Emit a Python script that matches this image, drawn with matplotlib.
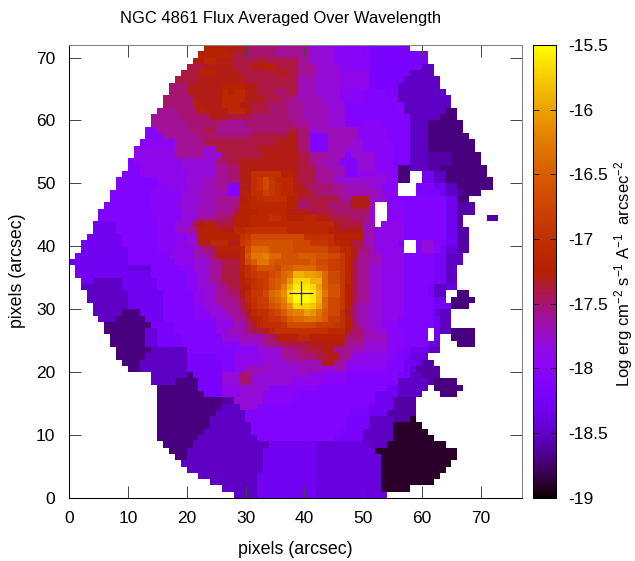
import numpy as np
import matplotlib
matplotlib.use("Agg")
import matplotlib.pyplot as plt
from matplotlib.cm import ScalarMappable
from matplotlib.colors import Normalize

plt.rcParams["font.family"] = ["Liberation Sans", "DejaVu Sans"]
plt.rcParams["mathtext.default"] = "regular"
plt.rcParams["axes.unicode_minus"] = False

# flux map, top row first. level char = (flux + 19) * 10 in base 36, '.' = no data
LEVELS = "0123456789abcdefghijklmnopqrstuvwxyz"
ROW_START = [23, 22, 21, 20, 19, 18, 17, 17, 16, 16, 15, 14, 14, 13, 13, 12, 11, 11,
             10, 10, 9, 8, 8, 7, 7, 6, 5, 5, 4, 4, 3, 2, 2, 1, 0, 1,
             1, 2, 2, 3, 3, 4, 4, 5, 6, 6, 7, 7, 8, 8, 9, 10, 14, 14,
             15, 15, 15, 15, 15, 15, 15, 15, 15, 16, 17, 18, 19, 20, 22, 24, 26, 28]
ROW_RUNS = [
    "i4 h3 f5 e6 c4 a6 87",
    "i6 g2 f5 e6 c4 a6 810",
    "h2 j2 h3 g4 h1 g6 e2 c4 a6 810",
    "g3 h5 g3 h2 i2 g4 e3 c4 a5 89 52",
    "g3 i3 h4 g6 h2 g2 e3 c4 b5 87 54",
    "g4 h8 g9 d3 c4 b5 86 56",
    "f3 h6 i4 h2 g7 d3 c4 b5 85 57",
    "f3 h6 j1 i1 j2 h2 g3 f2 g2 d3 c4 a4 95 81 58",
    "f5 h5 j4 h3 g3 f2 e1 d4 c3 a4 96 59",
    "f5 i1 h4 j3 h2 g3 f3 e3 d4 c3 93 97 58",
    "e3 f4 i1 h4 j3 h1 g3 f3 e3 d4 c3 93 96 a1 57 32",
    "e5 f5 h3 g4 f6 e3 d4 c3 911 55 33",
    "e6 f6 e4 f8 e3 d3 c3 93 a3 95 53 36",
    "a2 e5 f3 g2 e6 f6 g2 f2 c2 d6 a5 94 53 36",
    "a3 e6 f9 g6 h2 f2 93 d5 a5 94 53 37",
    "91 a5 e5 g8 g4 h4 f2 93 d4 c2 a5 93 53 38",
    "b7 e5 c2 g7 h7 f2 93 d3 c3 a5 93 53 38",
    "b7 e5 c3 g7 h6 g2 e3 d3 91 c4 a3 93 53 44 35",
    "91 b8 c3 c3 f2 g2 h10 g2 e2 d3 93 c3 a3 93 53 44 35",
    "92 b7 c6 e2 f2 h10 g3 e2 d3 92 c3 a3 91 32 53 42 38",
    "93 b8 c5 e2 f2 h2 k5 i2 h1 g3 e3 d2 92 b5 a2 32 .2 72 52 37",
    "97 b5 c3 d2 e2 f2 h2 k1 l1 n1 l1 j3 h1 g3 e3 c9 a2 32 .2 72 52 38",
    "97 a2 b3 c3 d2 e2 92 h2 k1 l1 n1 l1 k1 j2 h2 g1 f4 e2 d4 c2 a3 .3 81 92 72 52 36",
    "97 a5 c3 d5 92 i2 k2 m1 l1 k1 j2 i1 h2 g1 f3 e2 d6 b3 .3 81 83 71 52 41 33",
    "97 a5 c4 d2 e4 h1 i1 j1 k5 i2 g7 e2 h3 d1 c2 910 72 32",
    "98 a4 b1 c3 d3 e3 f1 i2 j6 i2 f2 g3 f4 h3 d1 .2 a3 97 72 43",
    "81 98 a5 c3 d3 e3 g1 i3 j5 h4 g4 f6 c1 .2 a3 97 71 71 43",
    "81 99 a4 c3 e3 f2 g1 i3 j3 k2 j1 i3 j2 i2 g4 f3 c1 .2 a3 97 72 41 .4 42",
    "74 97 a3 c3 h2 i2 g3 i3 j14 h1 g4 d2 .1 b4 97 72 41",
    "74 97 a3 c2 e2 i4 h2 j2 k7 j7 i1 h5 d2 b5 97 72 42",
    "76 96 a5 c2 i7 k1 l1 n9 k5 i5 d2 b5 97 72 42",
    "77 96 a3 b2 c2 h2 j3 h2 l1 m1 o7 n3 l3 k1 j1 i2 g2 d2 b4 81 .2 91 c2 92 72 42",
    "78 95 a3 b3 d2 f2 i4 j1 n1 q3 o4 n6 l2 j2 h1 f2 d1 b5 .2 91 c2 a1 81 62 42",
    "79 97 b4 d3 f1 h4 j1 o1 r2 s1 q2 o3 p3 o2 n2 l1 j1 h1 e2 d2 b4 95 82 53",
    "710 98 b3 c3 e2 g3 j1 n1 p1 r2 p1 o6 p1 n2 m2 l1 j1 g1 e2 d2 b4 95 82 53",
    "79 64 95 a2 c3 e2 g3 j1 k1 m1 o3 n1 p2 q4 o2 m2 l1 j1 g1 e2 c2 b4 95 82 52",
    "713 96 a2 c2 e2 g3 i1 k1 l1 m2 n1 o1 q1 r1 v2 u2 t1 q1 n2 l1 j1 g1 e2 c2 b4 95 82 52",
    "72 55 76 95 a2 c2 e2 g3 i1 j1 k1 l1 m1 o1 p1 q1 t1 x3 v2 q1 n2 l1 j1 g1 e2 c2 b4 95 82 52",
    "57 76 95 a2 c3 e2 g2 h1 i1 k1 l1 m1 o1 p1 s1 v1 y3 x1 u1 q1 o2 l1 i1 g1 e2 c2 b4 94 81 52 62",
    "57 76 95 b2 c2 e2 f2 h1 j1 l2 n1 q1 r1 t1 x1 z3 y1 v1 r1 o2 l1 i1 g1 e2 c2 b4 94 81 52 .2 32",
    "57 76 95 b2 c2 e3 f1 g1 j1 k1 m2 p1 q1 s1 w1 z3 y1 v1 q1 n2 l1 i1 g1 e2 c2 b4 95 72 .1 34",
    "56 76 95 a2 c3 e3 g1 i1 k1 l1 m1 o1 p1 r1 t1 x3 w1 u1 q1 n2 l1 i1 f1 d2 c2 b4 95 73 33",
    "55 33 74 95 a3 c3 e2 f1 h1 j1 k2 m1 n1 p1 r1 s2 u1 t1 r1 p1 n2 k1 h1 f1 d2 c2 b4 95 61 52",
    "53 35 73 95 a4 c3 e2 g1 i1 j1 k1 l2 n1 p1 q2 r2 q1 p1 m2 k1 i1 f1 d2 c2 b3 96 71 52",
    "38 84 97 b3 d2 f1 h1 j1 k3 l1 n5 m3 l1 k1 i1 g1 d2 c2 a3 96 71 52",
    "37 62 83 97 b2 d3 f1 g2 h1 j1 k9 j3 h1 f2 d2 c2 a3 94 .1 71 52 34",
    "36 62 84 97 c3 d4 f2 h1 i3 j2 i6 f3 d4 a3 94 .1 71 .2 34",
    "36 62 84 97 a3 c3 d1 e1 f2 g5 h6 e3 c4 a3 94 62 .3 33",
    "36 56 98 a4 c4 e2 f2 g3 h2 e3 d2 c4 a2 92 73 52",
    "35 57 85 93 b5 c3 e3 f3 g2 h2 e2 b6 a1 92 81 63",
    "33 58 86 92 b5 c4 d6 h2 e2 b7 93 72 61 42",
    "32 58 86 92 b2 d4 c5 d4 c2 d2 a7 93 71 61 44",
    "56 31 85 c3 f2 c10 b3 a3 99 82 52 43",
    "54 34 84 c3 f2 c7 b5 a4 99 55 41 34",
    "37 84 b3 c5 a8 912 72 55 .1 35",
    "38 83 b3 c4 a6 913 74 54 .3 33",
    "311 42 c5 a5 914 73 44",
    "311 53 c3 919 74 44",
    "310 55 918 83 73 45",
    "39 56 917 84 54 43 11",
    "39 57 916 84 54 15",
    "38 58 915 84 55 16",
    "37 510 913 85 55 17",
    "35 513 78 69 53 110",
    "33 513 79 610 114",
    "32 513 79 611 113",
    "514 79 611 112",
    "513 79 611 111",
    "510 710 611 110",
    "58 710 611 19",
    "56 710 611 15",
    "54 710 612",
]
NX = 77
NY = 72
CROSS_X = 39.4
CROSS_Y = 32.5
X_TICKS = [0, 10, 20, 30, 40, 50, 60, 70]
Y_TICKS = [0, 10, 20, 30, 40, 50, 60, 70]
CB_TICKS = [-19, -18.5, -18, -17.5, -17, -16.5, -16, -15.5]
CB_LABELS = ["-19", "-18.5", "-18", "-17.5", "-17", "-16.5", "-16", "-15.5"]


def decode():
    grid = np.full((NY, NX), np.nan)
    for r, (start, runs) in enumerate(zip(ROW_START, ROW_RUNS)):
        c = start
        for tok in runs.split():
            n = int(tok[1:])
            if tok[0] != ".":
                grid[r, c:c + n] = -19 + LEVELS.index(tok[0]) * 0.1
            c += n
    return grid


W, H = 635, 561
fig = plt.figure(figsize=(W / 100, H / 100), dpi=100)
ax = fig.add_axes([69.3 / W, 1 - 497.5 / H, 452.4 / W, 452.5 / H])
norm = Normalize(-19, -15.5)
ax.imshow(decode(), cmap="gnuplot", norm=norm, extent=[0, NX, 0, NY], aspect="auto",
          interpolation="nearest", origin="upper")
ax.plot([CROSS_X], [CROSS_Y], marker="+", ms=17.5, mew=0.9, color="#4a1470")
ax.set_xlim(0, NX); ax.set_ylim(0, NY)
ax.set_xticks(X_TICKS); ax.set_yticks(Y_TICKS)
ax.tick_params(direction="in", length=8.5, width=0.7, top=True, right=True, labelsize=12.5,
               color="#444444")
ax.tick_params(axis="x", pad=10)
ax.tick_params(axis="y", pad=10)
for s in ax.spines.values():
    s.set_linewidth(0.75)
ax.spines["top"].set_color("#808080"); ax.spines["right"].set_color("#808080")
fig.text(295 / W, 1 - 549 / H, "pixels (arcsec)", ha="center", va="center", fontsize=12.8)
fig.text(18 / W, 1 - 271 / H, "pixels (arcsec)", rotation=90, ha="center", va="center", fontsize=12.8)
fig.text(281 / W, 1 - 18 / H, "NGC 4861 Flux Averaged Over Wavelength", ha="center", va="center", fontsize=11.9)

cax = fig.add_axes([533 / W, 1 - 497.5 / H, 22.7 / W, 452.5 / H])
cb = fig.colorbar(ScalarMappable(norm=norm, cmap="gnuplot"), cax=cax)
cb.set_ticks(CB_TICKS, labels=CB_LABELS)
cax.tick_params(direction="in", length=4, width=0.7, labelsize=12.5, color="#222222", pad=9, left=True, right=True)
cb.outline.set_linewidth(0.75)
fig.text(624 / W, 1 - 274 / H, "Log erg cm$^{-2}$ s$^{-1}$ A$^{-1}$  arcsec$^{-2}$", rotation=90,
         ha="center", va="center", fontsize=12)
fig.savefig("out.png", dpi=100)
